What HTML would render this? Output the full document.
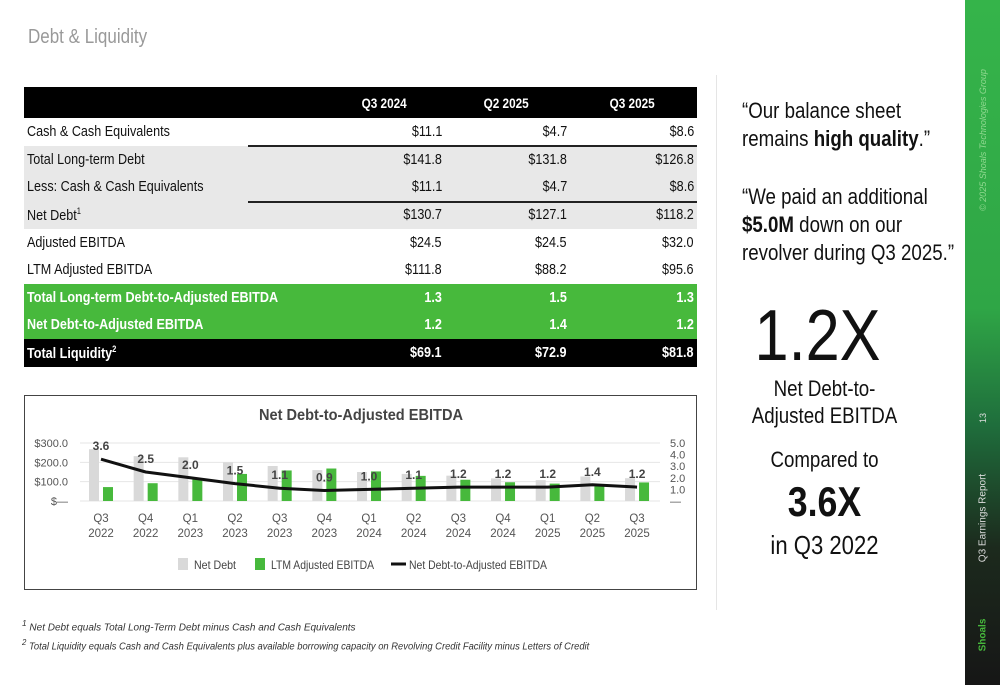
<!DOCTYPE html>
<html><head><meta charset="utf-8">
<style>
body{margin:0;width:1000px;height:685px;background:#fff;position:relative;overflow:hidden;font-family:"Liberation Sans Narrow","Liberation Sans",sans-serif;}
.abs{position:absolute;}
.row{position:absolute;left:24px;width:673px;height:27.6px;font-size:15px;color:#111;}
.row span{position:absolute;top:5px;white-space:nowrap;transform:scaleX(0.84);transform-origin:right;}
.row span.c0{transform-origin:left;}
.c0{left:3px}.c1{right:255px}.c2{right:130px}.c3{right:3px}
.sq{transform:scaleX(0.85);transform-origin:left;white-space:nowrap;}
.cq{transform:scaleX(0.85);transform-origin:center;white-space:nowrap;}
</style></head><body>
<div class="abs sq" style="left:28px;top:26px;font-size:20px;color:#999;font-family:'Liberation Sans',sans-serif;">Debt &amp; Liquidity</div>

<div>
<div class="row" style="top:87px;height:31px;background:#000;color:#fff;font-weight:bold;font-size:14px;"><span class="c1" style="top:8px;right:290px">Q3 2024</span><span class="c2" style="top:8px;right:168px">Q2 2025</span><span class="c3" style="top:8px;right:42px">Q3 2025</span></div>
<div class="row" style="top:118px"><span class="c0">Cash &amp; Cash Equivalents</span><span class="c1">$11.1</span><span class="c2">$4.7</span><span class="c3">$8.6</span></div>
<div class="row" style="top:146px;background:#e8e8e8"><span class="c0">Total Long-term Debt</span><span class="c1">$141.8</span><span class="c2">$131.8</span><span class="c3">$126.8</span></div>
<div class="row" style="top:173px;background:#e8e8e8"><span class="c0">Less: Cash &amp; Cash Equivalents</span><span class="c1">$11.1</span><span class="c2">$4.7</span><span class="c3">$8.6</span></div>
<div class="row" style="top:201px;background:#e8e8e8"><span class="c0">Net Debt<sup style="font-size:9px">1</sup></span><span class="c1">$130.7</span><span class="c2">$127.1</span><span class="c3">$118.2</span></div>
<div class="abs" style="left:248px;top:145px;width:449px;height:1.5px;background:#222"></div>
<div class="abs" style="left:248px;top:201px;width:449px;height:1.5px;background:#222"></div>
<div class="row" style="top:229px"><span class="c0">Adjusted EBITDA</span><span class="c1">$24.5</span><span class="c2">$24.5</span><span class="c3">$32.0</span></div>
<div class="row" style="top:256px"><span class="c0">LTM Adjusted EBITDA</span><span class="c1">$111.8</span><span class="c2">$88.2</span><span class="c3">$95.6</span></div>
<div class="row" style="top:284px;background:#47b93c;color:#fff;font-weight:bold"><span class="c0">Total Long-term Debt-to-Adjusted EBITDA</span><span class="c1">1.3</span><span class="c2">1.5</span><span class="c3">1.3</span></div>
<div class="row" style="top:311px;background:#47b93c;color:#fff;font-weight:bold"><span class="c0">Net Debt-to-Adjusted EBITDA</span><span class="c1">1.2</span><span class="c2">1.4</span><span class="c3">1.2</span></div>
<div class="row" style="top:339px;height:28px;background:#000;color:#fff;font-weight:bold"><span class="c0">Total Liquidity<sup style="font-size:9px">2</sup></span><span class="c1">$69.1</span><span class="c2">$72.9</span><span class="c3">$81.8</span></div>
</div>

<div class="abs" style="left:24px;top:395px;width:671px;height:193px;border:1.5px solid #444;"></div>
<svg class="abs" style="left:0;top:0" width="1000" height="685" id="chart">
<text x="361" y="420" text-anchor="middle" font-size="16" font-weight="bold" fill="#444" textLength="204" lengthAdjust="spacingAndGlyphs" font-family="Liberation Sans, sans-serif">Net Debt-to-Adjusted EBITDA</text>
<g id="plot"></g>
<g font-size="12" fill="#444" font-family="Liberation Sans, sans-serif">
<rect x="178" y="558" width="10" height="12" fill="#d9d9d9"/><text x="194" y="569" textLength="42" lengthAdjust="spacingAndGlyphs">Net Debt</text>
<rect x="255" y="558" width="10" height="12" fill="#47b93c"/><text x="271" y="569" textLength="103" lengthAdjust="spacingAndGlyphs">LTM Adjusted EBITDA</text>
<line x1="391" y1="564" x2="406" y2="564" stroke="#111" stroke-width="3"/><text x="409" y="569" textLength="138" lengthAdjust="spacingAndGlyphs">Net Debt-to-Adjusted EBITDA</text>
</g>
</svg>

<div class="abs" style="left:22px;top:616px;font-size:10px;color:#333;font-style:italic;font-family:'Liberation Sans',sans-serif;line-height:14px;">
<div><sup>1</sup> Net Debt equals Total Long-Term Debt minus Cash and Cash Equivalents</div>
<div style="transform:scaleX(0.94);transform-origin:left;white-space:nowrap"><sup>2</sup> Total Liquidity equals Cash and Cash Equivalents plus available borrowing capacity on Revolving Credit Facility minus Letters of Credit</div>
</div>

<div class="abs" style="left:716px;top:75px;width:1px;height:535px;background:#e5e5e5"></div>
<div class="abs sq" style="left:742px;top:97px;font-size:22px;line-height:28px;color:#111;">“Our balance sheet<br>remains <b>high quality</b>.”</div>
<div class="abs sq" style="left:742px;top:183px;font-size:22px;line-height:28px;color:#111;">“We paid an additional<br><b>$5.0M</b> down on our<br>revolver during Q3 2025.”</div>
<div class="abs cq" style="left:715px;top:296px;width:205px;text-align:center;font-size:72px;line-height:80px;color:#111;font-family:'Liberation Sans',sans-serif;">1.2X</div>
<div class="abs cq" style="left:722px;top:375px;width:205px;text-align:center;font-size:22px;line-height:27px;color:#111;">Net Debt-to-<br>Adjusted EBITDA</div>
<div class="abs cq" style="left:722px;top:447px;width:205px;text-align:center;font-size:22px;color:#111;">Compared to</div>
<div class="abs cq" style="left:722px;top:478px;width:205px;text-align:center;font-size:42px;font-weight:bold;color:#111;">3.6X</div>
<div class="abs cq" style="left:722px;top:530px;width:205px;text-align:center;font-size:26px;color:#111;">in Q3 2022</div>

<div class="abs" style="left:965px;top:0;width:35px;height:685px;background:linear-gradient(#35b44a 0%,#2fa646 45%,#1f6e3c 62%,#1c2a1d 80%,#161616 100%);"></div>
<div class="abs" style="left:983px;top:140px;transform:translate(-50%,-50%) rotate(-90deg);white-space:nowrap;font-size:9px;color:#8fd88f;font-style:italic;font-family:'Liberation Sans',sans-serif;">© 2025 Shoals Technologies Group</div>
<div class="abs" style="left:983px;top:418px;transform:translate(-50%,-50%) rotate(-90deg);font-size:9px;color:#ddd;font-family:'Liberation Sans',sans-serif;">13</div>
<div class="abs" style="left:983px;top:518px;transform:translate(-50%,-50%) rotate(-90deg);white-space:nowrap;font-size:10px;color:#ddd;font-family:'Liberation Sans',sans-serif;">Q3 Earnings Report</div>
<div class="abs" style="left:983px;top:635px;transform:translate(-50%,-50%) rotate(-90deg);font-size:10px;font-weight:bold;color:#47b93c;font-family:'Liberation Sans',sans-serif;">Shoals</div>

<script>
const quarters=["Q3","Q4","Q1","Q2","Q3","Q4","Q1","Q2","Q3","Q4","Q1","Q2","Q3"];
const years=["2022","2022","2023","2023","2023","2023","2024","2024","2024","2024","2025","2025","2025"];
const netDebt=[268,232,226,200,181,160,150,140,131,117,108,127,118];
const ltmEbitda=[72,92,112,140,158,168,153,130,110,97,90,88,96];
const ratio=[3.6,2.5,2.0,1.5,1.1,0.9,1.0,1.1,1.2,1.2,1.2,1.4,1.2];
const leftTicks=[0,100,200,300];
const leftTickLabels=["$—","$100.0","$200.0","$300.0"];
const rightTicks=[0,1,2,3,4,5];
const rightTickLabels=["—","1.0","2.0","3.0","4.0","5.0"];

(function(){
const ns="http://www.w3.org/2000/svg";
const g=document.getElementById('plot');
const x0=101,dx=44.67,y0=501,yTop=443;
const xs=i=>x0+i*dx;
const yL=v=>y0-(v/300)*(y0-yTop);
const yR=v=>y0-(v/5)*(y0-yTop);
function mk(t,a,txt){const e=document.createElementNS(ns,t);for(const k in a)e.setAttribute(k,a[k]);if(txt!=null)e.textContent=txt;g.appendChild(e);return e;}
const F="Liberation Sans, sans-serif";
leftTicks.forEach((v,i)=>{
 const gl=mk('line',{x1:80,x2:660,y1:yL(v),y2:yL(v),stroke:'#e6e6e6','stroke-width':1});
 
 
 const t=mk('text',{x:68,y:yL(v)+4,'text-anchor':'end','font-size':11,fill:'#555','font-family':F},leftTickLabels[i]);
 
 
});
rightTicks.forEach((v,i)=>{
 const t=mk('text',{x:670,y:yR(v)+4,'font-size':11,fill:'#555','font-family':F},rightTickLabels[i]);
 
 
});
quarters.forEach((q,i)=>{
 const b1=mk('rect',{x:xs(i)-12,y:yL(netDebt[i]),width:10,height:y0-yL(netDebt[i]),fill:'#d9d9d9'});
 
 
 const b2=mk('rect',{x:xs(i)+2,y:yL(ltmEbitda[i]),width:10,height:y0-yL(ltmEbitda[i]),fill:'#47b93c'});
 
 
 const t1=mk('text',{x:xs(i),y:522,'text-anchor':'middle','font-size':11.5,fill:'#555','font-family':F},q);
 
 
 const t2=mk('text',{x:xs(i),y:537,'text-anchor':'middle','font-size':11.5,fill:'#555','font-family':F},years[i]);
 
 
});
const pts=ratio.map((v,i)=>xs(i)+','+yR(v)).join(' ');
const pl=mk('polyline',{points:pts,fill:'none',stroke:'#111','stroke-width':3,'stroke-linejoin':'round'});


ratio.forEach((v,i)=>{
 const t=mk('text',{x:xs(i),y:yR(v)-9,'text-anchor':'middle','font-size':12,'font-weight':'bold',fill:'#444','font-family':F},v.toFixed(1));
 
 
});
})();
</script>
</body></html>
